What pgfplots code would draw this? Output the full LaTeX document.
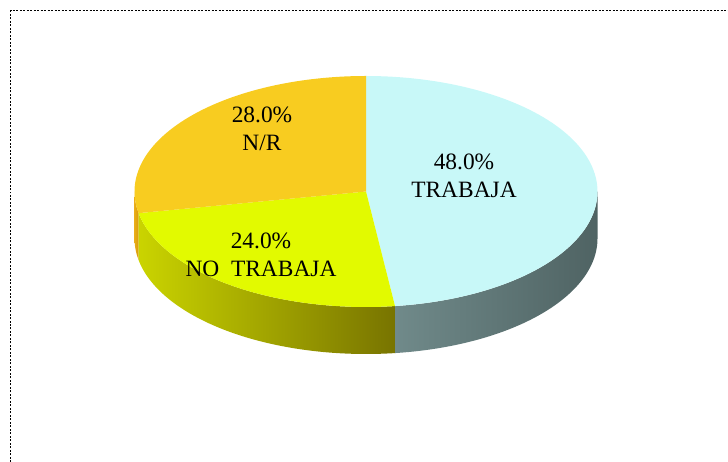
\documentclass[border=0pt]{standalone}
\usepackage{pgfplots}
\usepackage{pgfplotstable}
\pgfplotsset{compat=1.18}
\usepackage{fontspec}
\setmainfont{Liberation Serif}

\definecolor{topA}{HTML}{C8F8F8}
\definecolor{topB}{HTML}{E2FA00}
\definecolor{topC}{HTML}{F8CC20}
\definecolor{sideAl}{HTML}{708A8A}
\definecolor{sideAr}{HTML}{4F6363}
\definecolor{sideBl}{HTML}{CAD400}
\definecolor{sideBr}{HTML}{787400}
\definecolor{sideCl}{HTML}{E8AC18}
\definecolor{sideCr}{HTML}{D89A0A}

\pgfplotstableread{
label value
TRABAJA 48
NOTRABAJA 24
NR 28
}\datatable

\newcommand{\sideface}[3]{%
\addplot[draw=none,#3,variable=\t,samples at={0,1,...,201}]
 ({\cx+\rx*cos(((\t<=100)*(#1+(#2-#1)*\t/100)+(1-(\t<=100))*(#2+(#1-#2)*(\t-101)/100)))},
  {\cy+\ry*sin(((\t<=100)*(#1+(#2-#1)*\t/100)+(1-(\t<=100))*(#2+(#1-#2)*(\t-101)/100)))-\dep*(1-(\t<=100))});}
\newcommand{\pieslice}[3]{%
\addplot[draw=none,fill=#3,variable=\t,samples at={-1,0,1,...,100,101}]
 ({\cx+\rx*((\t>=0)*(\t<=100))*cos(#1+(#2-#1)*min(max(\t,0),100)/100)},
  {\cy+\ry*((\t>=0)*(\t<=100))*sin(#1+(#2-#1)*min(max(\t,0),100)/100)});}
\def\cx{366}\def\cy{270.5}\def\rx{231.5}\def\ry{115.5}\def\dep{47}

\begin{document}%
\begin{tikzpicture}
\pgfplotstablegetelem{0}{value}\of\datatable \let\vA\pgfplotsretval
\pgfplotstablegetelem{1}{value}\of\datatable \let\vB\pgfplotsretval
\pgfplotstablegetelem{2}{value}\of\datatable \let\vC\pgfplotsretval
\pgfmathsetmacro\aA{90}
\pgfmathsetmacro\aB{\aA-3.6*\vA}
\pgfmathsetmacro\aC{\aB-3.6*\vB}
\pgfmathsetmacro\aD{\aC-3.6*\vC}
\begin{axis}[x=1bp,y=1bp,xmin=0,xmax=728,ymin=0,ymax=462,hide axis,clip=false]
\path (axis cs:0,0) rectangle (axis cs:728,462);
\sideface{-180}{\aC}{left color=sideCl,right color=sideCr}
\sideface{\aC}{\aB}{left color=sideBl,right color=sideBr}
\sideface{\aB}{0}{left color=sideAl,middle color=sideAr,right color=sideAr}
\pieslice{\aA}{\aB}{topA}
\pieslice{\aB}{\aC}{topB}
\pieslice{\aC}{\aD}{topC}
\node[font=\fontsize{23.5}{28}\selectfont,align=center] at (axis cs:464,286) {48.0\%\\TRABAJA};
\node[font=\fontsize{23.5}{28}\selectfont,align=center] at (axis cs:261,207) {24.0\%\\NO\ \ TRABAJA};
\node[font=\fontsize{23.5}{28}\selectfont,align=center] at (axis cs:262,333) {28.0\%\\N/R};
\draw[line width=1pt,dash pattern=on 2pt off 1.5pt] (axis cs:10.5,0) -- (axis cs:10.5,451) -- (axis cs:728,451);
\end{axis}
\pgfresetboundingbox
\path (current axis.south west) rectangle (current axis.north east);
\end{tikzpicture}%
\end{document}
